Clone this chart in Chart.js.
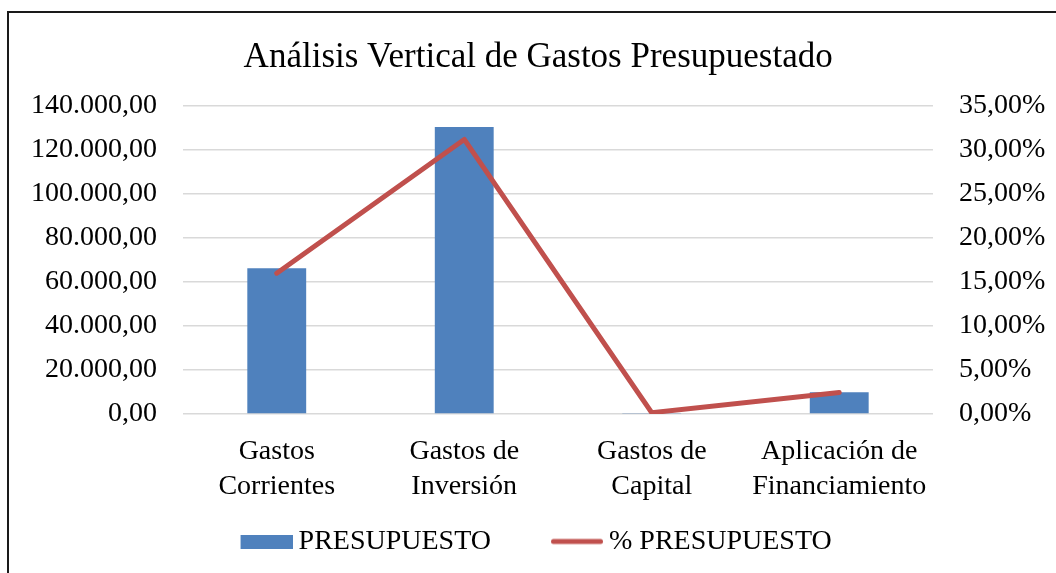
<!DOCTYPE html>
<html>
<head>
<meta charset="utf-8">
<script src="https://cdn.jsdelivr.net/npm/chart.js@4.4.1/dist/chart.umd.min.js"></script>
<style>
  html, body { margin: 0; padding: 0; background: #fff; overflow: hidden; }
  #wrap { position: relative; width: 1056px; height: 573px; overflow: hidden; background: #fff; }
  #frame { position: absolute; left: 7px; top: 11px; width: 2000px; height: 2000px; border: 2px solid #1a1a1a; box-sizing: border-box; }
  #cv { position: absolute; left: 0; top: 0; }
</style>
</head>
<body>
<div id="wrap">
  <div id="frame"></div>
  <canvas id="cv" width="1056" height="573"></canvas>
</div>
<script>
const chartTitle = 'Análisis Vertical de Gastos Presupuestado';
const categories = [
  ['Gastos', 'Corrientes'],
  ['Gastos de', 'Inversión'],
  ['Gastos de', 'Capital'],
  ['Aplicación de', 'Financiamiento']
];
const budgetLabel = 'PRESUPUESTO';
const budgetValues = [66200, 130400, 500, 9900];
const pctLabel = '% PRESUPUESTO';
const pctValues = [16.0, 31.2, 0.15, 2.45];
const leftTicks = { min: 0, max: 140000, step: 20000 };
const rightTicks = { min: 0, max: 35, step: 5 };

const FONT = "'Liberation Serif', 'Times New Roman', serif";
const BLUE = '#4F81BD';
const RED = '#C0504D';

function fmtMoney(v) {
  const s = Math.round(v).toString().replace(/\B(?=(\d{3})+(?!\d))/g, '.');
  return s + ',00';
}
function fmtPct(v) {
  return v.toFixed(2).replace('.', ',') + '%';
}

// legend symbols (glyph placed in the right 52px of a 60px canvas)
function makeSymbol(kind) {
  const c = document.createElement('canvas');
  c.width = 60; c.height = 14;
  const g = c.getContext('2d');
  if (kind === 'rect') {
    g.fillStyle = BLUE;
    g.fillRect(8, 0, 52, 14);
  } else {
    g.strokeStyle = RED;
    g.lineWidth = 5;
    g.lineCap = 'round';
    g.beginPath();
    g.moveTo(10.5, 7);
    g.lineTo(57.5, 7);
    g.stroke();
  }
  return c;
}
const symRect = makeSymbol('rect');
const symLine = makeSymbol('line');

// move the legend box up closer to the axis labels (and slightly left)
const legendNudge = {
  id: 'legendNudge',
  afterLayout(chart) {
    const lg = chart.legend;
    if (!lg) return;
    const dy = -56.5, dx = -2;
    lg.top += dy; lg.bottom += dy;
    lg.left += dx; lg.right += dx;
  }
};

Chart.defaults.font.family = FONT;
Chart.defaults.color = '#000';

new Chart(document.getElementById('cv'), {
  plugins: [legendNudge],
  data: {
    labels: categories,
    datasets: [
      {
        type: 'bar',
        label: budgetLabel,
        data: budgetValues,
        backgroundColor: BLUE,
        borderWidth: 0,
        yAxisID: 'y',
        order: 1,
        barPercentage: 1,
        categoryPercentage: 0.314
      },
      {
        type: 'line',
        label: pctLabel,
        data: pctValues,
        borderColor: RED,
        backgroundColor: RED,
        borderWidth: 5,
        pointRadius: 0,
        pointHoverRadius: 0,
        borderCapStyle: 'round',
        borderJoinStyle: 'round',
        tension: 0,
        yAxisID: 'y1',
        order: 0
      }
    ]
  },
  options: {
    responsive: false,
    animation: false,
    devicePixelRatio: 1,
    layout: { padding: { left: 31, right: 10.7, top: 0, bottom: -49 } },
    plugins: {
      tooltip: { enabled: false },
      title: {
        display: true,
        text: chartTitle,
        color: '#000',
        font: { family: FONT, size: 35, weight: 'normal', lineHeight: 1.2 },
        padding: { top: 37, bottom: 27 }
      },
      legend: {
        position: 'bottom',
        labels: {
          color: '#000',
          font: { family: FONT, size: 28 },
          usePointStyle: true,
          pointStyleWidth: 44,
          boxHeight: 14,
          padding: 60,
          generateLabels(chart) {
            return chart.data.datasets.map((ds, i) => ({
              text: ds.label,
              fillStyle: ds.backgroundColor,
              strokeStyle: ds.borderColor || ds.backgroundColor,
              lineWidth: 0,
              pointStyle: ds.type === 'line' ? symLine : symRect,
              fontColor: '#000',
              hidden: false,
              datasetIndex: i
            }));
          }
        }
      }
    },
    scales: {
      x: {
        grid: { display: false, drawTicks: false },
        border: { display: false },
        ticks: {
          color: '#000',
          font: { family: FONT, size: 28, lineHeight: 1.25 },
          padding: 20,
          maxRotation: 0,
          autoSkip: false
        }
      },
      y: {
        position: 'left',
        min: leftTicks.min,
        max: leftTicks.max,
        grid: { color: '#D9D9D9', lineWidth: 1.5, drawTicks: false },
        border: { display: false },
        ticks: {
          stepSize: leftTicks.step,
          padding: 26,
          color: '#000',
          font: { family: FONT, size: 28 },
          callback: (v) => fmtMoney(v)
        },
        afterFit(scale) { scale.width -= 26; }
      },
      y1: {
        position: 'right',
        min: rightTicks.min,
        max: rightTicks.max,
        grid: { drawOnChartArea: false, drawTicks: false },
        border: { display: false },
        ticks: {
          stepSize: rightTicks.step,
          padding: 26,
          color: '#000',
          font: { family: FONT, size: 28 },
          callback: (v) => fmtPct(v)
        },
        afterFit(scale) { scale.width -= 26; }
      }
    }
  }
});
</script>
</body>
</html>
